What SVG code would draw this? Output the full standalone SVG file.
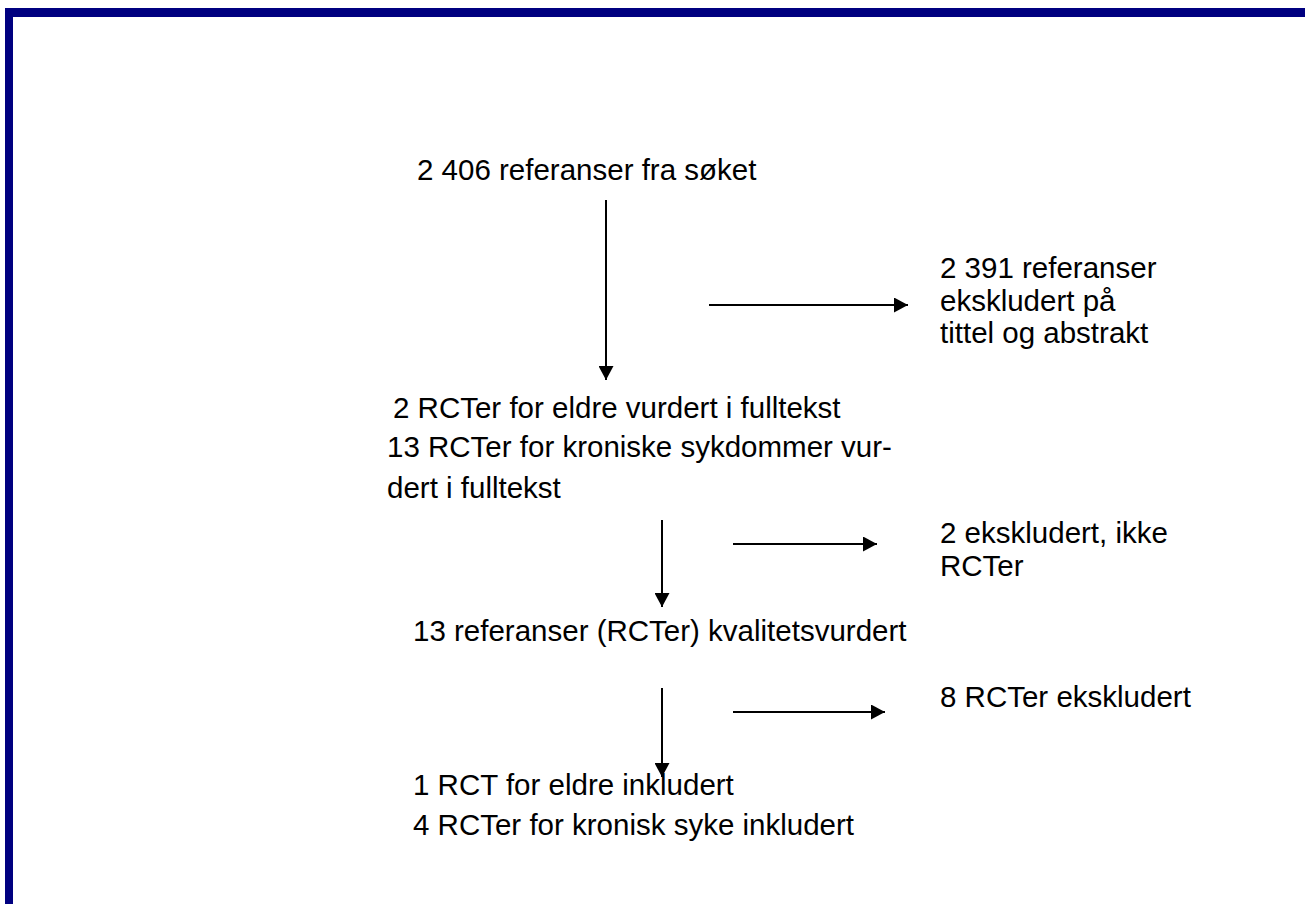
<svg xmlns="http://www.w3.org/2000/svg" width="1305" height="904" viewBox="0 0 1305 904">
<style>
.t{font-family:"Liberation Sans",Arial,sans-serif;font-size:29.5px;fill:#000}
.c{stroke:#000;stroke-width:2;fill:none}
</style>
<defs>
<marker id="ah" markerUnits="userSpaceOnUse" markerWidth="14" markerHeight="15" refX="14" refY="7.5" orient="auto">
<path d="M0,0 L14,7.5 L0,15 z" fill="#000"/>
</marker>
</defs>
<rect width="1305" height="904" fill="#fff"/>
<g id="frame">
<rect x="5" y="8" width="1300" height="9" fill="#000080"/>
<rect x="5" y="8" width="8" height="896" fill="#000080"/>
</g>
<g id="connectors">
<line class="c" x1="606" y1="200" x2="606" y2="380" marker-end="url(#ah)"/>
<line class="c" x1="709" y1="305" x2="908" y2="305" marker-end="url(#ah)"/>
<line class="c" x1="662" y1="520" x2="662" y2="607" marker-end="url(#ah)"/>
<line class="c" x1="733" y1="544" x2="877" y2="544" marker-end="url(#ah)"/>
<line class="c" x1="662" y1="688" x2="662" y2="777" marker-end="url(#ah)"/>
<line class="c" x1="733" y1="712" x2="885" y2="712" marker-end="url(#ah)"/>
</g>
<g id="n1"><text class="t" x="417" y="180">2 406 referanser fra søket</text></g>
<g id="n2"><text class="t" x="940" y="278">2 391 referanser</text><text class="t" x="940" y="311">ekskludert på</text><text class="t" x="940" y="343">tittel og abstrakt</text></g>
<g id="n3"><text class="t" x="393" y="418">2 RCTer for eldre vurdert i fulltekst</text><text class="t" x="387" y="457">13 RCTer for kroniske sykdommer vur-</text><text class="t" x="387" y="498">dert i fulltekst</text></g>
<g id="n4"><text class="t" x="940" y="543">2 ekskludert, ikke</text><text class="t" x="940" y="576">RCTer</text></g>
<g id="n5"><text class="t" x="413" y="641">13 referanser (RCTer) kvalitetsvurdert</text></g>
<g id="n6"><text class="t" x="940" y="707">8 RCTer ekskludert</text></g>
<g id="n7"><text class="t" x="413" y="795">1 RCT for eldre inkludert</text><text class="t" x="413" y="835">4 RCTer for kronisk syke inkludert</text></g>
</svg>
